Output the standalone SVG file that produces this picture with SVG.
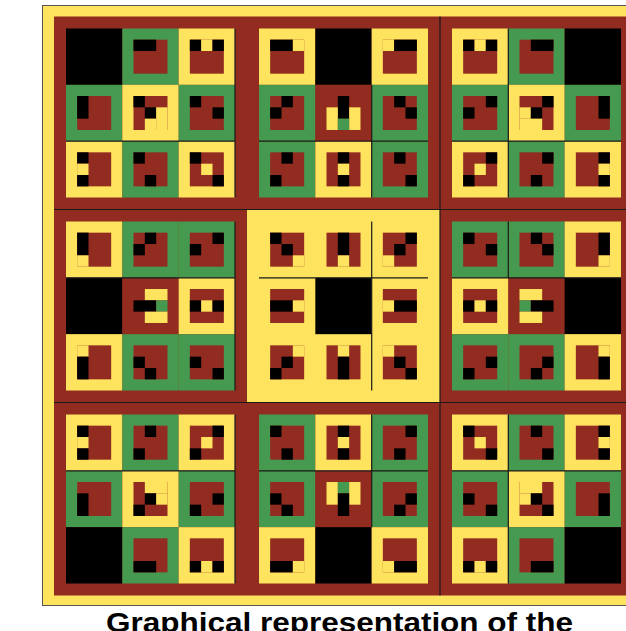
<svg xmlns="http://www.w3.org/2000/svg" width="626" height="631" viewBox="0 0 626 631">
<style>
.r{fill:#922B20}.g{fill:#469A4F}.y{fill:#FEE35F}.k{fill:#000}
.ln{stroke:#1a1a1a;stroke-width:1.2;fill:none}
.cap{font-family:'Liberation Sans',Arial,sans-serif;font-weight:bold;font-size:27px;fill:#000}
</style>
<rect width="626" height="631" fill="#fff"/>
<g id="frame">
<rect x="42.5" y="5.5" width="600" height="600" class="y" stroke="#555" stroke-width="1"/>
</g>
<g id="b00" transform="translate(54,16.5)">
<rect class="r" width="193" height="193"/>
<rect class="k" x="12" y="12" width="56.34" height="56.34"/>
<g transform="translate(68.33,12)"><rect class="g" width="56.34" height="56.34"/><rect class="r" x="11.17" y="11.17" width="34" height="34"/><rect class="k" x="11.17" y="11.17" width="22.67" height="11.34"/></g>
<g transform="translate(124.67,12)"><rect class="y" width="56.34" height="56.34"/><rect class="r" x="11.17" y="11.17" width="34" height="34"/><rect class="k" x="11.17" y="11.17" width="11.34" height="11.34"/><rect class="y" x="22.5" y="11.17" width="11.34" height="11.34"/><rect class="k" x="33.83" y="11.17" width="11.34" height="11.34"/></g>
<g transform="translate(12,68.33)"><rect class="g" width="56.34" height="56.34"/><rect class="r" x="11.17" y="11.17" width="34" height="34"/><rect class="k" x="11.17" y="11.17" width="11.34" height="22.67"/></g>
<g transform="translate(68.33,68.33)"><rect class="y" width="56.34" height="56.34"/><rect class="r" x="11.17" y="11.17" width="34" height="34"/><rect class="k" x="11.17" y="11.17" width="11.34" height="11.34"/><rect class="k" x="22.5" y="22.5" width="11.34" height="11.34"/><rect class="y" x="33.83" y="22.5" width="11.34" height="22.67"/><rect class="y" x="22.5" y="33.83" width="11.34" height="11.34"/></g>
<g transform="translate(124.67,68.33)"><rect class="g" width="56.34" height="56.34"/><rect class="r" x="11.17" y="11.17" width="34" height="34"/><rect class="k" x="11.17" y="11.17" width="11.34" height="11.34"/><rect class="k" x="33.83" y="22.5" width="11.34" height="11.34"/></g>
<g transform="translate(12,124.67)"><rect class="y" width="56.34" height="56.34"/><rect class="r" x="11.17" y="11.17" width="34" height="34"/><rect class="k" x="11.17" y="11.17" width="11.34" height="11.34"/><rect class="y" x="11.17" y="22.5" width="11.34" height="11.34"/><rect class="k" x="11.17" y="33.83" width="11.34" height="11.34"/></g>
<g transform="translate(68.33,124.67)"><rect class="g" width="56.34" height="56.34"/><rect class="r" x="11.17" y="11.17" width="34" height="34"/><rect class="k" x="11.17" y="11.17" width="11.34" height="11.34"/><rect class="k" x="22.5" y="33.83" width="11.34" height="11.34"/></g>
<g transform="translate(124.67,124.67)"><rect class="y" width="56.34" height="56.34"/><rect class="r" x="11.17" y="11.17" width="34" height="34"/><rect class="k" x="11.17" y="11.17" width="11.34" height="11.34"/><rect class="y" x="22.5" y="22.5" width="11.34" height="11.34"/><rect class="k" x="33.83" y="33.83" width="11.34" height="11.34"/></g>
</g>
<g id="b01" transform="translate(247,16.5)">
<rect class="r" width="193" height="193"/>
<g transform="translate(12,12)"><rect class="y" width="56.34" height="56.34"/><rect class="r" x="11.17" y="11.17" width="34" height="34"/><rect class="k" x="11.17" y="11.17" width="22.67" height="11.34"/><rect class="y" x="33.83" y="11.17" width="11.34" height="11.34"/></g>
<rect class="k" x="68.33" y="12" width="56.34" height="56.34"/>
<g transform="translate(124.67,12)"><rect class="y" width="56.34" height="56.34"/><rect class="r" x="11.17" y="11.17" width="34" height="34"/><rect class="y" x="11.17" y="11.17" width="11.34" height="11.34"/><rect class="k" x="22.5" y="11.17" width="22.67" height="11.34"/></g>
<g transform="translate(12,68.33)"><rect class="g" width="56.34" height="56.34"/><rect class="r" x="11.17" y="11.17" width="34" height="34"/><rect class="k" x="22.5" y="11.17" width="11.34" height="11.34"/><rect class="k" x="11.17" y="22.5" width="11.34" height="11.34"/></g>
<g transform="translate(68.33,68.33)"><rect class="r" width="56.34" height="56.34"/><rect class="k" x="22.5" y="11.17" width="11.34" height="22.67"/><rect class="y" x="11.17" y="22.5" width="11.34" height="22.67"/><rect class="y" x="33.83" y="22.5" width="11.34" height="22.67"/><rect class="g" x="22.5" y="33.83" width="11.34" height="11.34"/></g>
<g transform="translate(124.67,68.33)"><rect class="g" width="56.34" height="56.34"/><rect class="r" x="11.17" y="11.17" width="34" height="34"/><rect class="k" x="22.5" y="11.17" width="11.34" height="11.34"/><rect class="k" x="33.83" y="22.5" width="11.34" height="11.34"/></g>
<g transform="translate(12,124.67)"><rect class="g" width="56.34" height="56.34"/><rect class="r" x="11.17" y="11.17" width="34" height="34"/><rect class="k" x="22.5" y="11.17" width="11.34" height="11.34"/><rect class="k" x="11.17" y="33.83" width="11.34" height="11.34"/></g>
<g transform="translate(68.33,124.67)"><rect class="y" width="56.34" height="56.34"/><rect class="r" x="11.17" y="11.17" width="34" height="34"/><rect class="k" x="22.5" y="11.17" width="11.34" height="11.34"/><rect class="y" x="22.5" y="22.5" width="11.34" height="11.34"/><rect class="k" x="22.5" y="33.83" width="11.34" height="11.34"/></g>
<g transform="translate(124.67,124.67)"><rect class="g" width="56.34" height="56.34"/><rect class="r" x="11.17" y="11.17" width="34" height="34"/><rect class="k" x="22.5" y="11.17" width="11.34" height="11.34"/><rect class="k" x="33.83" y="33.83" width="11.34" height="11.34"/></g>
</g>
<g id="b02" transform="translate(440,16.5)">
<rect class="r" width="193" height="193"/>
<g transform="translate(12,12)"><rect class="y" width="56.34" height="56.34"/><rect class="r" x="11.17" y="11.17" width="34" height="34"/><rect class="k" x="11.17" y="11.17" width="11.34" height="11.34"/><rect class="y" x="22.5" y="11.17" width="11.34" height="11.34"/><rect class="k" x="33.83" y="11.17" width="11.34" height="11.34"/></g>
<g transform="translate(68.33,12)"><rect class="g" width="56.34" height="56.34"/><rect class="r" x="11.17" y="11.17" width="34" height="34"/><rect class="k" x="22.5" y="11.17" width="22.67" height="11.34"/></g>
<rect class="k" x="124.67" y="12" width="56.34" height="56.34"/>
<g transform="translate(12,68.33)"><rect class="g" width="56.34" height="56.34"/><rect class="r" x="11.17" y="11.17" width="34" height="34"/><rect class="k" x="33.83" y="11.17" width="11.34" height="11.34"/><rect class="k" x="11.17" y="22.5" width="11.34" height="11.34"/></g>
<g transform="translate(68.33,68.33)"><rect class="y" width="56.34" height="56.34"/><rect class="r" x="11.17" y="11.17" width="34" height="34"/><rect class="k" x="33.83" y="11.17" width="11.34" height="11.34"/><rect class="y" x="11.17" y="22.5" width="11.34" height="11.34"/><rect class="k" x="22.5" y="22.5" width="11.34" height="11.34"/><rect class="y" x="11.17" y="33.83" width="22.67" height="11.34"/></g>
<g transform="translate(124.67,68.33)"><rect class="g" width="56.34" height="56.34"/><rect class="r" x="11.17" y="11.17" width="34" height="34"/><rect class="k" x="33.83" y="11.17" width="11.34" height="22.67"/></g>
<g transform="translate(12,124.67)"><rect class="y" width="56.34" height="56.34"/><rect class="r" x="11.17" y="11.17" width="34" height="34"/><rect class="k" x="33.83" y="11.17" width="11.34" height="11.34"/><rect class="y" x="22.5" y="22.5" width="11.34" height="11.34"/><rect class="k" x="11.17" y="33.83" width="11.34" height="11.34"/></g>
<g transform="translate(68.33,124.67)"><rect class="g" width="56.34" height="56.34"/><rect class="r" x="11.17" y="11.17" width="34" height="34"/><rect class="k" x="33.83" y="11.17" width="11.34" height="11.34"/><rect class="k" x="22.5" y="33.83" width="11.34" height="11.34"/></g>
<g transform="translate(124.67,124.67)"><rect class="y" width="56.34" height="56.34"/><rect class="r" x="11.17" y="11.17" width="34" height="34"/><rect class="k" x="33.83" y="11.17" width="11.34" height="11.34"/><rect class="y" x="33.83" y="22.5" width="11.34" height="11.34"/><rect class="k" x="33.83" y="33.83" width="11.34" height="11.34"/></g>
</g>
<g id="b10" transform="translate(54,209.5)">
<rect class="r" width="193" height="193"/>
<g transform="translate(12,12)"><rect class="y" width="56.34" height="56.34"/><rect class="r" x="11.17" y="11.17" width="34" height="34"/><rect class="k" x="11.17" y="11.17" width="11.34" height="22.67"/><rect class="y" x="11.17" y="33.83" width="11.34" height="11.34"/></g>
<g transform="translate(68.33,12)"><rect class="g" width="56.34" height="56.34"/><rect class="r" x="11.17" y="11.17" width="34" height="34"/><rect class="k" x="22.5" y="11.17" width="11.34" height="11.34"/><rect class="k" x="11.17" y="22.5" width="11.34" height="11.34"/></g>
<g transform="translate(124.67,12)"><rect class="g" width="56.34" height="56.34"/><rect class="r" x="11.17" y="11.17" width="34" height="34"/><rect class="k" x="33.83" y="11.17" width="11.34" height="11.34"/><rect class="k" x="11.17" y="22.5" width="11.34" height="11.34"/></g>
<rect class="k" x="12" y="68.33" width="56.34" height="56.34"/>
<g transform="translate(68.33,68.33)"><rect class="r" width="56.34" height="56.34"/><rect class="y" x="22.5" y="11.17" width="22.67" height="11.34"/><rect class="k" x="11.17" y="22.5" width="22.67" height="11.34"/><rect class="g" x="33.83" y="22.5" width="11.34" height="11.34"/><rect class="y" x="22.5" y="33.83" width="22.67" height="11.34"/></g>
<g transform="translate(124.67,68.33)"><rect class="y" width="56.34" height="56.34"/><rect class="r" x="11.17" y="11.17" width="34" height="34"/><rect class="k" x="11.17" y="22.5" width="11.34" height="11.34"/><rect class="y" x="22.5" y="22.5" width="11.34" height="11.34"/><rect class="k" x="33.83" y="22.5" width="11.34" height="11.34"/></g>
<g transform="translate(12,124.67)"><rect class="y" width="56.34" height="56.34"/><rect class="r" x="11.17" y="11.17" width="34" height="34"/><rect class="y" x="11.17" y="11.17" width="11.34" height="11.34"/><rect class="k" x="11.17" y="22.5" width="11.34" height="22.67"/></g>
<g transform="translate(68.33,124.67)"><rect class="g" width="56.34" height="56.34"/><rect class="r" x="11.17" y="11.17" width="34" height="34"/><rect class="k" x="11.17" y="22.5" width="11.34" height="11.34"/><rect class="k" x="22.5" y="33.83" width="11.34" height="11.34"/></g>
<g transform="translate(124.67,124.67)"><rect class="g" width="56.34" height="56.34"/><rect class="r" x="11.17" y="11.17" width="34" height="34"/><rect class="k" x="11.17" y="22.5" width="11.34" height="11.34"/><rect class="k" x="33.83" y="33.83" width="11.34" height="11.34"/></g>
</g>
<g id="b11" transform="translate(247,209.5)">
<rect class="y" width="193" height="193"/>
<g transform="translate(12,12)"><rect class="r" x="11.17" y="11.17" width="34" height="34"/><rect class="k" x="11.17" y="11.17" width="11.34" height="11.34"/><rect class="k" x="22.5" y="22.5" width="11.34" height="11.34"/><rect class="y" x="33.83" y="33.83" width="11.34" height="11.34"/></g>
<g transform="translate(68.33,12)"><rect class="r" x="11.17" y="11.17" width="34" height="34"/><rect class="k" x="22.5" y="11.17" width="11.34" height="22.67"/><rect class="y" x="22.5" y="33.83" width="11.34" height="11.34"/></g>
<g transform="translate(124.67,12)"><rect class="r" x="11.17" y="11.17" width="34" height="34"/><rect class="k" x="33.83" y="11.17" width="11.34" height="11.34"/><rect class="k" x="22.5" y="22.5" width="11.34" height="11.34"/><rect class="y" x="11.17" y="33.83" width="11.34" height="11.34"/></g>
<g transform="translate(12,68.33)"><rect class="r" x="11.17" y="11.17" width="34" height="34"/><rect class="k" x="11.17" y="22.5" width="22.67" height="11.34"/><rect class="y" x="33.83" y="22.5" width="11.34" height="11.34"/></g>
<rect class="k" x="68.33" y="68.33" width="56.34" height="56.34"/>
<g transform="translate(124.67,68.33)"><rect class="r" x="11.17" y="11.17" width="34" height="34"/><rect class="y" x="11.17" y="22.5" width="11.34" height="11.34"/><rect class="k" x="22.5" y="22.5" width="22.67" height="11.34"/></g>
<g transform="translate(12,124.67)"><rect class="r" x="11.17" y="11.17" width="34" height="34"/><rect class="y" x="33.83" y="11.17" width="11.34" height="11.34"/><rect class="k" x="22.5" y="22.5" width="11.34" height="11.34"/><rect class="k" x="11.17" y="33.83" width="11.34" height="11.34"/></g>
<g transform="translate(68.33,124.67)"><rect class="r" x="11.17" y="11.17" width="34" height="34"/><rect class="y" x="22.5" y="11.17" width="11.34" height="11.34"/><rect class="k" x="22.5" y="22.5" width="11.34" height="22.67"/></g>
<g transform="translate(124.67,124.67)"><rect class="r" x="11.17" y="11.17" width="34" height="34"/><rect class="y" x="11.17" y="11.17" width="11.34" height="11.34"/><rect class="k" x="22.5" y="22.5" width="11.34" height="11.34"/><rect class="k" x="33.83" y="33.83" width="11.34" height="11.34"/></g>
</g>
<g id="b12" transform="translate(440,209.5)">
<rect class="r" width="193" height="193"/>
<g transform="translate(12,12)"><rect class="g" width="56.34" height="56.34"/><rect class="r" x="11.17" y="11.17" width="34" height="34"/><rect class="k" x="11.17" y="11.17" width="11.34" height="11.34"/><rect class="k" x="33.83" y="22.5" width="11.34" height="11.34"/></g>
<g transform="translate(68.33,12)"><rect class="g" width="56.34" height="56.34"/><rect class="r" x="11.17" y="11.17" width="34" height="34"/><rect class="k" x="22.5" y="11.17" width="11.34" height="11.34"/><rect class="k" x="33.83" y="22.5" width="11.34" height="11.34"/></g>
<g transform="translate(124.67,12)"><rect class="y" width="56.34" height="56.34"/><rect class="r" x="11.17" y="11.17" width="34" height="34"/><rect class="k" x="33.83" y="11.17" width="11.34" height="22.67"/><rect class="y" x="33.83" y="33.83" width="11.34" height="11.34"/></g>
<g transform="translate(12,68.33)"><rect class="y" width="56.34" height="56.34"/><rect class="r" x="11.17" y="11.17" width="34" height="34"/><rect class="k" x="11.17" y="22.5" width="11.34" height="11.34"/><rect class="y" x="22.5" y="22.5" width="11.34" height="11.34"/><rect class="k" x="33.83" y="22.5" width="11.34" height="11.34"/></g>
<g transform="translate(68.33,68.33)"><rect class="r" width="56.34" height="56.34"/><rect class="y" x="11.17" y="11.17" width="22.67" height="11.34"/><rect class="g" x="11.17" y="22.5" width="11.34" height="11.34"/><rect class="k" x="22.5" y="22.5" width="22.67" height="11.34"/><rect class="y" x="11.17" y="33.83" width="22.67" height="11.34"/></g>
<rect class="k" x="124.67" y="68.33" width="56.34" height="56.34"/>
<g transform="translate(12,124.67)"><rect class="g" width="56.34" height="56.34"/><rect class="r" x="11.17" y="11.17" width="34" height="34"/><rect class="k" x="33.83" y="22.5" width="11.34" height="11.34"/><rect class="k" x="11.17" y="33.83" width="11.34" height="11.34"/></g>
<g transform="translate(68.33,124.67)"><rect class="g" width="56.34" height="56.34"/><rect class="r" x="11.17" y="11.17" width="34" height="34"/><rect class="k" x="33.83" y="22.5" width="11.34" height="11.34"/><rect class="k" x="22.5" y="33.83" width="11.34" height="11.34"/></g>
<g transform="translate(124.67,124.67)"><rect class="y" width="56.34" height="56.34"/><rect class="r" x="11.17" y="11.17" width="34" height="34"/><rect class="y" x="33.83" y="11.17" width="11.34" height="11.34"/><rect class="k" x="33.83" y="22.5" width="11.34" height="22.67"/></g>
</g>
<g id="b20" transform="translate(54,402.5)">
<rect class="r" width="193" height="193"/>
<g transform="translate(12,12)"><rect class="y" width="56.34" height="56.34"/><rect class="r" x="11.17" y="11.17" width="34" height="34"/><rect class="k" x="11.17" y="11.17" width="11.34" height="11.34"/><rect class="y" x="11.17" y="22.5" width="11.34" height="11.34"/><rect class="k" x="11.17" y="33.83" width="11.34" height="11.34"/></g>
<g transform="translate(68.33,12)"><rect class="g" width="56.34" height="56.34"/><rect class="r" x="11.17" y="11.17" width="34" height="34"/><rect class="k" x="22.5" y="11.17" width="11.34" height="11.34"/><rect class="k" x="11.17" y="33.83" width="11.34" height="11.34"/></g>
<g transform="translate(124.67,12)"><rect class="y" width="56.34" height="56.34"/><rect class="r" x="11.17" y="11.17" width="34" height="34"/><rect class="k" x="33.83" y="11.17" width="11.34" height="11.34"/><rect class="y" x="22.5" y="22.5" width="11.34" height="11.34"/><rect class="k" x="11.17" y="33.83" width="11.34" height="11.34"/></g>
<g transform="translate(12,68.33)"><rect class="g" width="56.34" height="56.34"/><rect class="r" x="11.17" y="11.17" width="34" height="34"/><rect class="k" x="11.17" y="22.5" width="11.34" height="22.67"/></g>
<g transform="translate(68.33,68.33)"><rect class="y" width="56.34" height="56.34"/><rect class="r" x="11.17" y="11.17" width="34" height="34"/><rect class="y" x="22.5" y="11.17" width="22.67" height="11.34"/><rect class="k" x="22.5" y="22.5" width="11.34" height="11.34"/><rect class="y" x="33.83" y="22.5" width="11.34" height="11.34"/><rect class="k" x="11.17" y="33.83" width="11.34" height="11.34"/></g>
<g transform="translate(124.67,68.33)"><rect class="g" width="56.34" height="56.34"/><rect class="r" x="11.17" y="11.17" width="34" height="34"/><rect class="k" x="33.83" y="22.5" width="11.34" height="11.34"/><rect class="k" x="11.17" y="33.83" width="11.34" height="11.34"/></g>
<rect class="k" x="12" y="124.67" width="56.34" height="56.34"/>
<g transform="translate(68.33,124.67)"><rect class="g" width="56.34" height="56.34"/><rect class="r" x="11.17" y="11.17" width="34" height="34"/><rect class="k" x="11.17" y="33.83" width="22.67" height="11.34"/></g>
<g transform="translate(124.67,124.67)"><rect class="y" width="56.34" height="56.34"/><rect class="r" x="11.17" y="11.17" width="34" height="34"/><rect class="k" x="11.17" y="33.83" width="11.34" height="11.34"/><rect class="y" x="22.5" y="33.83" width="11.34" height="11.34"/><rect class="k" x="33.83" y="33.83" width="11.34" height="11.34"/></g>
</g>
<g id="b21" transform="translate(247,402.5)">
<rect class="r" width="193" height="193"/>
<g transform="translate(12,12)"><rect class="g" width="56.34" height="56.34"/><rect class="r" x="11.17" y="11.17" width="34" height="34"/><rect class="k" x="11.17" y="11.17" width="11.34" height="11.34"/><rect class="k" x="22.5" y="33.83" width="11.34" height="11.34"/></g>
<g transform="translate(68.33,12)"><rect class="y" width="56.34" height="56.34"/><rect class="r" x="11.17" y="11.17" width="34" height="34"/><rect class="k" x="22.5" y="11.17" width="11.34" height="11.34"/><rect class="y" x="22.5" y="22.5" width="11.34" height="11.34"/><rect class="k" x="22.5" y="33.83" width="11.34" height="11.34"/></g>
<g transform="translate(124.67,12)"><rect class="g" width="56.34" height="56.34"/><rect class="r" x="11.17" y="11.17" width="34" height="34"/><rect class="k" x="33.83" y="11.17" width="11.34" height="11.34"/><rect class="k" x="22.5" y="33.83" width="11.34" height="11.34"/></g>
<g transform="translate(12,68.33)"><rect class="g" width="56.34" height="56.34"/><rect class="r" x="11.17" y="11.17" width="34" height="34"/><rect class="k" x="11.17" y="22.5" width="11.34" height="11.34"/><rect class="k" x="22.5" y="33.83" width="11.34" height="11.34"/></g>
<g transform="translate(68.33,68.33)"><rect class="r" width="56.34" height="56.34"/><rect class="y" x="11.17" y="11.17" width="11.34" height="22.67"/><rect class="g" x="22.5" y="11.17" width="11.34" height="11.34"/><rect class="y" x="33.83" y="11.17" width="11.34" height="22.67"/><rect class="k" x="22.5" y="22.5" width="11.34" height="22.67"/></g>
<g transform="translate(124.67,68.33)"><rect class="g" width="56.34" height="56.34"/><rect class="r" x="11.17" y="11.17" width="34" height="34"/><rect class="k" x="33.83" y="22.5" width="11.34" height="11.34"/><rect class="k" x="22.5" y="33.83" width="11.34" height="11.34"/></g>
<g transform="translate(12,124.67)"><rect class="y" width="56.34" height="56.34"/><rect class="r" x="11.17" y="11.17" width="34" height="34"/><rect class="k" x="11.17" y="33.83" width="22.67" height="11.34"/><rect class="y" x="33.83" y="33.83" width="11.34" height="11.34"/></g>
<rect class="k" x="68.33" y="124.67" width="56.34" height="56.34"/>
<g transform="translate(124.67,124.67)"><rect class="y" width="56.34" height="56.34"/><rect class="r" x="11.17" y="11.17" width="34" height="34"/><rect class="y" x="11.17" y="33.83" width="11.34" height="11.34"/><rect class="k" x="22.5" y="33.83" width="22.67" height="11.34"/></g>
</g>
<g id="b22" transform="translate(440,402.5)">
<rect class="r" width="193" height="193"/>
<g transform="translate(12,12)"><rect class="y" width="56.34" height="56.34"/><rect class="r" x="11.17" y="11.17" width="34" height="34"/><rect class="k" x="11.17" y="11.17" width="11.34" height="11.34"/><rect class="y" x="22.5" y="22.5" width="11.34" height="11.34"/><rect class="k" x="33.83" y="33.83" width="11.34" height="11.34"/></g>
<g transform="translate(68.33,12)"><rect class="g" width="56.34" height="56.34"/><rect class="r" x="11.17" y="11.17" width="34" height="34"/><rect class="k" x="22.5" y="11.17" width="11.34" height="11.34"/><rect class="k" x="33.83" y="33.83" width="11.34" height="11.34"/></g>
<g transform="translate(124.67,12)"><rect class="y" width="56.34" height="56.34"/><rect class="r" x="11.17" y="11.17" width="34" height="34"/><rect class="k" x="33.83" y="11.17" width="11.34" height="11.34"/><rect class="y" x="33.83" y="22.5" width="11.34" height="11.34"/><rect class="k" x="33.83" y="33.83" width="11.34" height="11.34"/></g>
<g transform="translate(12,68.33)"><rect class="g" width="56.34" height="56.34"/><rect class="r" x="11.17" y="11.17" width="34" height="34"/><rect class="k" x="11.17" y="22.5" width="11.34" height="11.34"/><rect class="k" x="33.83" y="33.83" width="11.34" height="11.34"/></g>
<g transform="translate(68.33,68.33)"><rect class="y" width="56.34" height="56.34"/><rect class="r" x="11.17" y="11.17" width="34" height="34"/><rect class="y" x="11.17" y="11.17" width="22.67" height="11.34"/><rect class="y" x="11.17" y="22.5" width="11.34" height="11.34"/><rect class="k" x="22.5" y="22.5" width="11.34" height="11.34"/><rect class="k" x="33.83" y="33.83" width="11.34" height="11.34"/></g>
<g transform="translate(124.67,68.33)"><rect class="g" width="56.34" height="56.34"/><rect class="r" x="11.17" y="11.17" width="34" height="34"/><rect class="k" x="33.83" y="22.5" width="11.34" height="22.67"/></g>
<g transform="translate(12,124.67)"><rect class="y" width="56.34" height="56.34"/><rect class="r" x="11.17" y="11.17" width="34" height="34"/><rect class="k" x="11.17" y="33.83" width="11.34" height="11.34"/><rect class="y" x="22.5" y="33.83" width="11.34" height="11.34"/><rect class="k" x="33.83" y="33.83" width="11.34" height="11.34"/></g>
<g transform="translate(68.33,124.67)"><rect class="g" width="56.34" height="56.34"/><rect class="r" x="11.17" y="11.17" width="34" height="34"/><rect class="k" x="22.5" y="33.83" width="22.67" height="11.34"/></g>
<rect class="k" x="124.67" y="124.67" width="56.34" height="56.34"/>
</g>
<g id="connectors">
<path class="ln" d="M440 16.5V595.5M54 209.5H626M54 402.5H626"/>
<path class="ln" d="M66 141.2H235M235 28.5V197.5M259 141.2H428M371.7 84.8V197.5M452 141.2H621M508.3 28.5V197.5"/>
<path class="ln" d="M66 277.8H235M235 221.5V390.5M259 277.8H428M371.7 221.5V390.5M452 277.8H621M508.3 221.5V277.8"/>
<path class="ln" d="M66 470.8H235M235 414.5V583.5M259 470.8H428M371.7 414.5V527.2M452 470.8H621M508.3 414.5V583.5"/>
</g>
<text class="cap" x="339.5" y="632" text-anchor="middle" textLength="467" lengthAdjust="spacingAndGlyphs">Graphical representation of the</text>
</svg>
